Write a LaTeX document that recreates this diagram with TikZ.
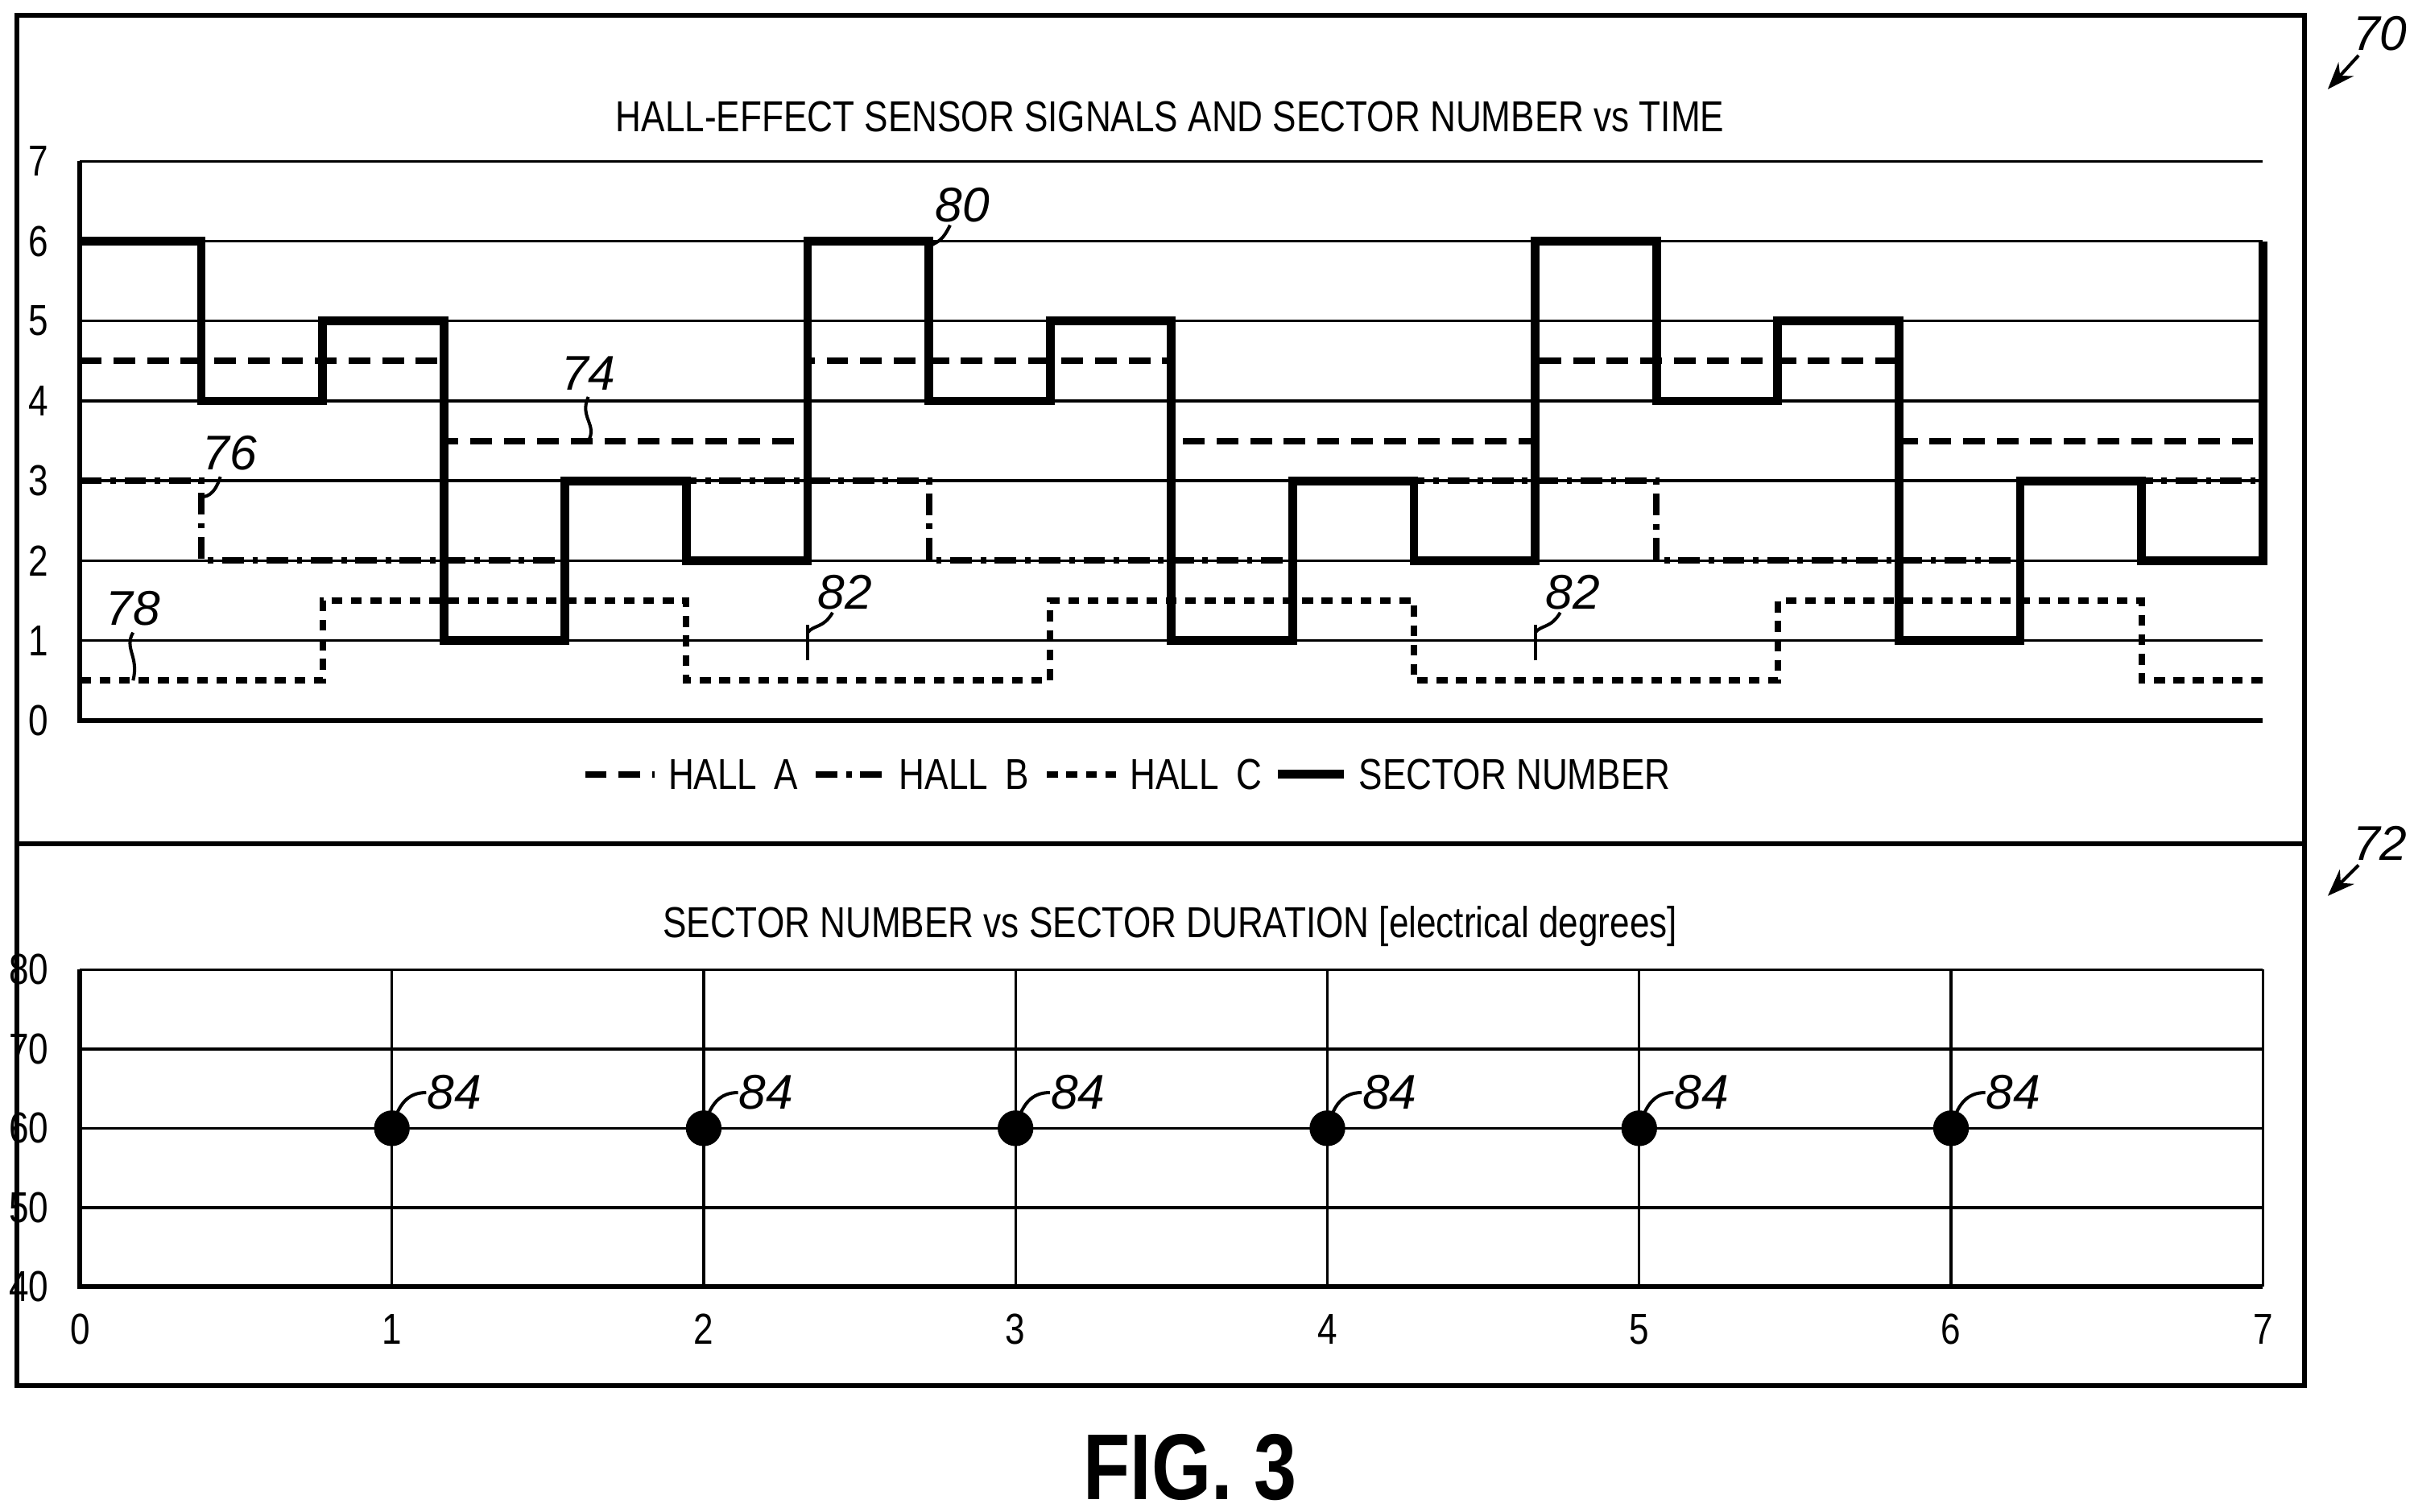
\documentclass[tikz,border=0pt]{standalone}
\usepackage{fontspec}
\setmainfont{Liberation Sans}
\newfontfamily\narrowfont{Liberation Sans}[FakeStretch=0.82]
\usetikzlibrary{arrows.meta}
\tikzset{
	grid/.style     = {line width=0.5pt},
	frame/.style    = {line width=0.9pt},
	hallA/.style    = {line width=1.2pt, dash pattern=on 4pt off 2.2pt},
	hallB/.style    = {line width=1.2pt, dash pattern=on 4pt off 1.6pt on 1pt off 1.6pt},
	hallC/.style    = {line width=1.2pt, dash pattern=on 2pt off 1.6pt},
	sector/.style   = {line width=1.6pt},
	refnum/.style   = {font=\itshape\small},
	leader/.style   = {line width=0.6pt},
	axlabel/.style  = {font=\narrowfont\footnotesize},
	legend/.style   = {right, inner sep=2pt, font=\narrowfont\footnotesize},
}
\begin{document}
\begin{tikzpicture}[x=0.01cm, y=-0.01cm]
    \useasboundingbox (0,0) rectangle (1568,982);
    %Frames
    \draw[frame] (11,10) rectangle (1497,900);
    \draw[frame] (11,548) -- (1497,548);
    \node[font=\narrowfont\footnotesize] (title1) at (760,76) {HALL-EFFECT SENSOR SIGNALS AND SECTOR NUMBER vs TIME};
    \node[font=\narrowfont\footnotesize] (title2) at (760,602) {SECTOR NUMBER vs SECTOR DURATION [electrical degrees]};
    \node[font=\narrowfont\bfseries\LARGE] (fig) at (773,953) {FIG. 3};

    %Upper plot
    \begin{scope}[shift={(52,468)}, x=2.0243cm, y=0.5186cm]
      \foreach \v in {1,...,7} \draw[grid] (0,\v) -- (7,\v);
      \foreach \v in {0,...,7} \node[axlabel, anchor=east] (ly\v) at (-0.04,\v) {\v};
      \draw[frame] (0,7) -- (0,0) -- (7,0);
      \draw[hallA] plot[const plot] coordinates {(0,4.5) (1.1667,3.5) (2.3333,4.5) (3.5,3.5) (4.6667,4.5) (5.8333,3.5) (7,3.5)};
      \draw[hallB] plot[const plot] coordinates {(0,3) (0.3889,2) (1.5556,3) (2.7222,2) (3.8889,3) (5.0556,2) (6.2222,3) (7,3)};
      \draw[hallC] plot[const plot] coordinates {(0,0.5) (0.7778,1.5) (1.9444,0.5) (3.1111,1.5) (4.2778,0.5) (5.4444,1.5) (6.6111,0.5) (7,0.5)};
      \draw[sector] plot[const plot] coordinates {(0,6) (0.3889,4) (0.7778,5) (1.1667,1) (1.5556,3) (1.9444,2)
        (2.3333,6) (2.7222,4) (3.1111,5) (3.5,1) (3.8889,3) (4.2778,2)
        (4.6667,6) (5.0556,4) (5.4444,5) (5.8333,1) (6.2222,3) (6.6111,2) (7,2)} -- (7,6);
      %Reference numerals
      \node[refnum] (n74) at (1.63,4.35) {74};
      \draw[leader] (1.63,4.05) .. controls (1.60,3.8) and (1.66,3.7) .. (1.63,3.5);
      \node[refnum] (n76) at (0.48,3.35) {76};
      \draw[leader] (0.45,3.05) .. controls (0.43,2.8) and (0.40,2.8) .. (0.3889,2.8);
      \node[refnum] (n78) at (0.17,1.4) {78};
      \draw[leader] (0.17,1.1) .. controls (0.14,0.9) and (0.19,0.8) .. (0.17,0.5);
      \node[refnum] (n80) at (2.83,6.45) {80};
      \draw[leader] (2.79,6.2) .. controls (2.76,5.95) and (2.74,6.0) .. (2.7222,5.92);
      \foreach \t in {2.3333,4.6667} {
        \node[refnum] at (\t+0.12,1.6) {82};
        \draw[leader] (\t,0.75) -- (\t,1.2);
        \draw[leader] (\t+0.08,1.35) .. controls (\t+0.05,1.15) and (\t+0.02,1.2) .. (\t,1.1);
      }
    \end{scope}

    %Legend
    \draw[hallA] (380,503) -- (425,503) node[legend] (legA) {HALL\ \,A};
    \draw[hallB] (530,503) -- (575,503) node[legend] (legB) {HALL\ \,B};
    \draw[hallC] (680,503) -- (725,503) node[legend] (legC) {HALL\ \,C};
    \draw[sector] (830,503) -- (873,503) node[legend] (legS) {SECTOR NUMBER};

    %Lower plot
    \begin{scope}[shift={(52,836)}, x=2.0243cm, y=0.0515cm]
      \foreach \v in {40,50,...,80} {
        \draw[grid] (0,\v-40) -- (7,\v-40);
        \node[axlabel, anchor=east] (lz\v) at (-0.04,\v-40) {\v};
      }
      \foreach \t in {1,...,6} \draw[grid] (\t,0) -- (\t,40);
      \draw[grid] (7,0) -- (7,40);
      \draw[frame] (0,40) -- (0,0) -- (7,0);
      \foreach \t in {0,...,7} \node[axlabel, anchor=north] (lx\t) at (\t,-1) {\t};
      \foreach \t in {1,...,6} {
        \fill (\t,20) circle (3.3pt) coordinate (d\t);
        \node[refnum] (r\t) at (\t+0.2,24.5) {84};
        \draw[leader] (d\t) .. controls (\t+0.02,23) and (\t+0.05,24.5) .. (\t+0.11,24.5);
      }
    \end{scope}

    %Figure numerals
    \node[refnum] (n70) at (1546,22) {70};
    \draw[leader, -{Stealth[length=5pt]}] (1532,36) -- (1512,58);
    \node[refnum] (n72) at (1546,548) {72};
    \draw[leader, -{Stealth[length=5pt]}] (1532,562) -- (1512,582);
\end{tikzpicture}
\end{document}
